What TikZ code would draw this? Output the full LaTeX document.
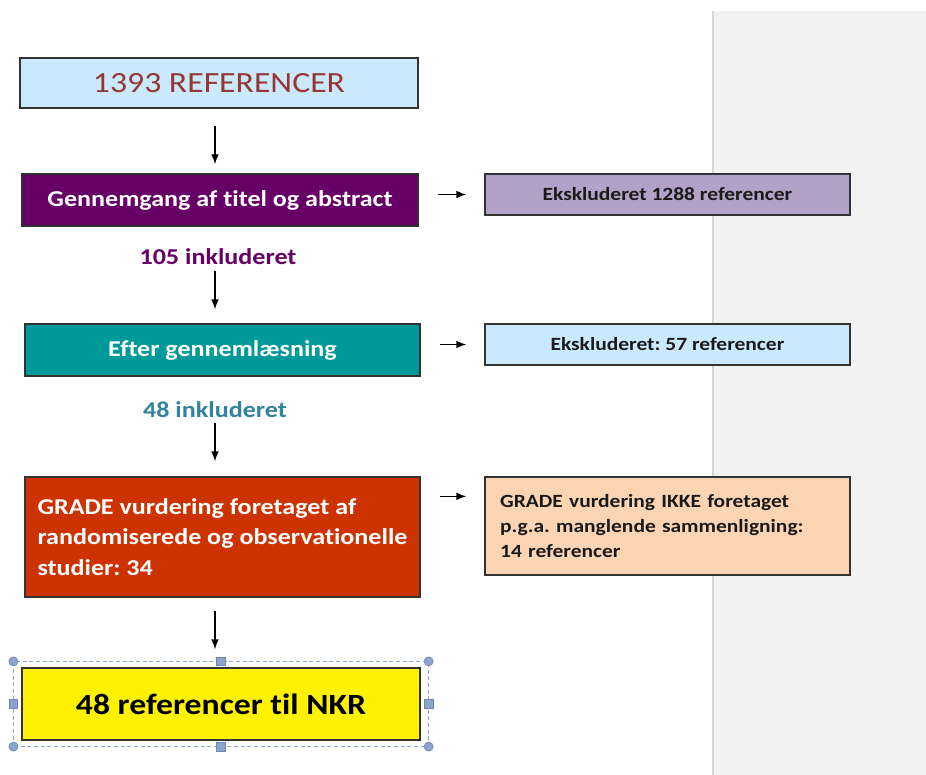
\documentclass[tikz,border=0pt]{standalone}
\usepackage{fontspec}
\setmainfont{Carlito}[FakeStretch=1.15, Ligatures=CommonOff]
\usepackage{tikz}
\usetikzlibrary{arrows.meta,positioning,fit}
\definecolor{Ink}{HTML}{1A1A1A}
\definecolor{Edge}{HTML}{333333}
\definecolor{SoftBlue}{HTML}{CBE9FD}
\definecolor{Plum}{HTML}{660066}
\definecolor{Lagoon}{HTML}{009999}
\definecolor{LagoonText}{HTML}{31849B}
\definecolor{Rust}{HTML}{CC3300}
\definecolor{Lilac}{HTML}{B3A2C7}
\definecolor{Peach}{HTML}{FBD4B4}
\definecolor{Brick}{HTML}{953735}
\definecolor{Panel}{HTML}{F2F2F2}
\definecolor{PanelRule}{HTML}{D6D6D6}
\definecolor{Handle}{HTML}{8CA5CA}
\definecolor{HandleRule}{HTML}{6D87AE}
\frenchspacing

\begin{document}
\begin{tikzpicture}[
  x=0.75pt, y=-0.75pt,
  box/.style={draw=Edge, line width=1pt, align=center, inner sep=0pt},
  stage/.style={box, text=white, font=\fontsize{17}{23}\selectfont\bfseries,
    minimum width=296.25pt, minimum height=39pt},
  excl/.style={box, text=Ink, font=\fontsize{14}{18.75}\selectfont\bfseries,
    minimum width=273.75pt, minimum height=30.75pt},
  big/.style={box, font=\fontsize{22}{26}\selectfont, minimum width=298.5pt},
  count/.style={font=\fontsize{17}{20}\selectfont\bfseries, inner sep=1pt},
  flow/.style={-{Latex[length=2.6mm,width=2mm]}, line width=1pt, draw=black},
  side/.style={flow, shorten <=14.25pt, shorten >=13.5pt},
  selframe/.style={draw=Handle, dashed, dash pattern=on 3pt off 2pt, line width=0.75pt,
    inner xsep=5.6pt, inner ysep=4.1pt},
  grip/.style={fill=Handle, draw=HandleRule, line width=0.5pt}
]
  \useasboundingbox (0,0) rectangle (926,775);
  \fill[Panel] (713,11) rectangle (926,775);
  \draw[PanelRule, line width=1.5pt] (713,11) -- (713,775);

  \node[big, fill=SoftBlue, text=Brick, minimum height=37.5pt] (refs) at (219,83) {1393 REFERENCER};
  \node[stage, fill=Plum, minimum width=297pt] (title) at (220,200) {Gennemgang af titel og abstract};
  \node[count, text=Plum] (inc1) at (218,257) {105 inkluderet};
  \node[stage, fill=Lagoon] (read) at (222.5,350) {Efter gennemlæsning};
  \node[count, text=LagoonText] (inc2) at (215,410) {48 inkluderet};
  \node[stage, fill=Rust, minimum height=90pt, align=left] (grade) at (222.5,537)
    {GRADE vurdering foretaget af\\randomiserede og observationelle\\studier: 34};
  \node[big, fill=yellow, text=black, font=\fontsize{22}{26}\selectfont\bfseries,
    minimum height=54pt] (nkr) at (221,704) {48 referencer til NKR};

  \node[excl, fill=Lilac] (excl1) at (667.5,194.5) {Ekskluderet 1288 referencer};
  \node[excl, fill=SoftBlue] (excl2) at (667.5,344.5) {Ekskluderet: 57 referencer};
  \node[excl, fill=Peach, minimum height=73.5pt, text width=251pt, align=left, inner xsep=11.25pt]
    (nograde) at (667.5,526)
    {GRADE vurdering IKKE foretaget\\p.g.a. manglende sammenligning:\\14 referencer};

  \coordinate (spine) at (215,0);
  \draw[flow, shorten <=12.75pt, shorten >=6.75pt] (refs.south -| spine) -- (title.north -| spine);
  \draw[flow, shorten <=33pt, shorten >=10.5pt] (title.south -| spine) -- (read.north -| spine);
  \draw[flow, shorten <=34.5pt, shorten >=11.25pt] (read.south -| spine) -- (grade.north -| spine);
  \draw[flow, shorten <=9.75pt, shorten >=13.5pt] (grade.south -| spine) -- (nkr.north -| spine);

  \draw[side] (title.east |- excl1.west) -- (excl1.west);
  \draw[side] (read.east |- excl2.west) -- (excl2.west);
  \draw[side] ([yshift=-15pt]grade.north east) -- ([yshift=-15pt]nograde.north west);

  \node[selframe, fit=(nkr)] (sel) {};
  \foreach \corner in {north west,north east,south west,south east}
    \filldraw[grip] (sel.\corner) circle (3.4pt);
  \foreach \edge in {north,south,west,east}
    \filldraw[grip] ([shift={(-3.2pt,-3.2pt)}]sel.\edge) rectangle ++(6.4pt,6.4pt);
\end{tikzpicture}
\end{document}
